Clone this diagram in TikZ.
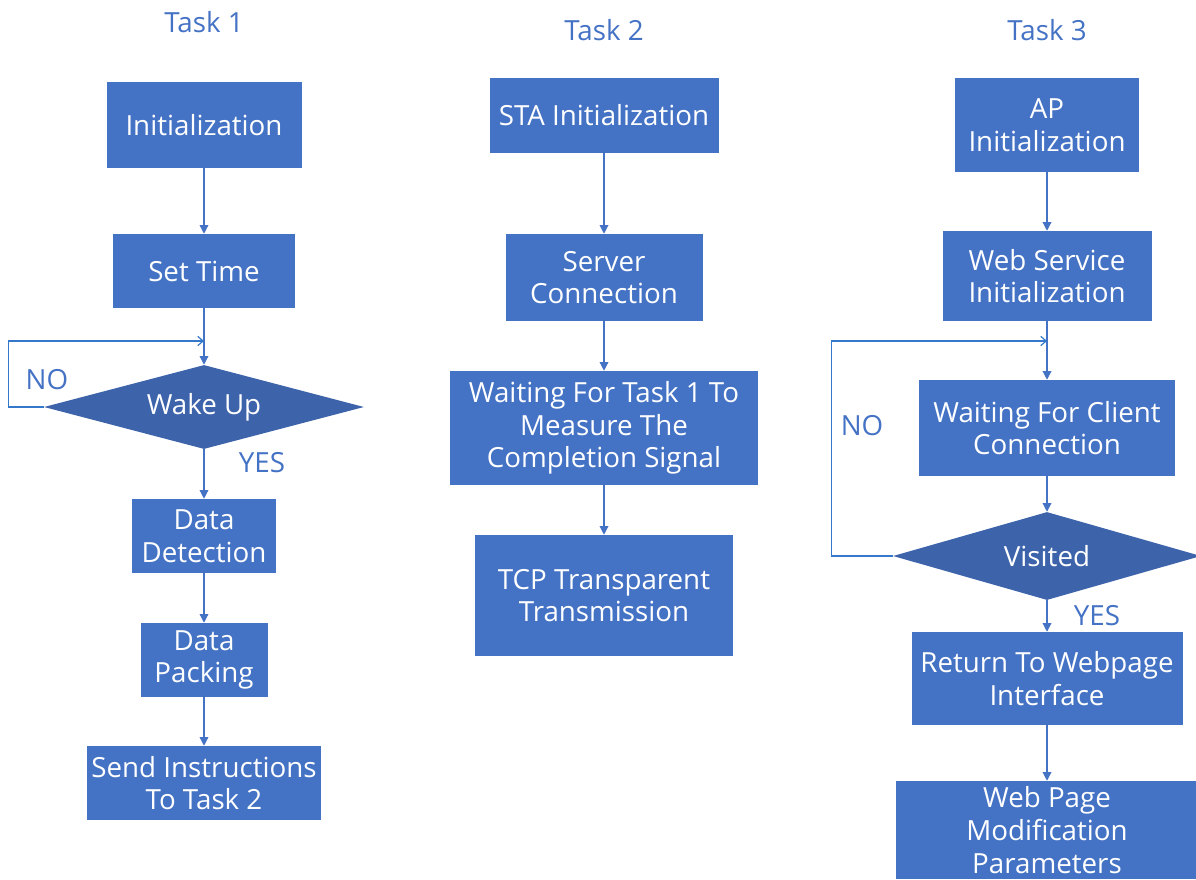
\documentclass[tikz,border=0pt]{standalone}
\usepackage{fontspec}
\setmainfont{Open Sans}
\usepackage{tikz}
\usetikzlibrary{positioning,arrows.meta,shapes.geometric}
\definecolor{boxblue}{RGB}{68,114,196}
\definecolor{decblue}{RGB}{61,99,170}
\definecolor{loopblue}{RGB}{52,120,204}

\begin{document}
\begin{tikzpicture}[
  x=0.75pt,y=-0.75pt,
  font=\fontsize{20.8}{24.5}\selectfont,
  proc/.style={fill=boxblue,text=white,align=center,inner sep=2pt},
  dec/.style={fill=decblue,text=white,diamond,aspect=3.6,inner sep=0pt,
              minimum width=240pt,minimum height=63pt},
  title/.style={text=boxblue},
  lbl/.style={text=boxblue,inner sep=0pt},
  ar/.style={-{Triangle[length=6.5pt,width=6.5pt]},boxblue,line width=0.9pt},
  lp/.style={-{Straight Barb[length=4pt,width=7pt]},loopblue,line width=0.9pt},
]
\useasboundingbox (0,0) rectangle (1196,879);

% Task 1
\node[title] (t1) at (204,22) {Task 1};
\node[proc,minimum width=146.25pt,minimum height=64.5pt] (init) at (204,125) {Initialization};
\node[proc,minimum width=136.5pt,minimum height=55.5pt] (settime) at (204,271) {Set Time};
\node[dec] (wake) at (204,407) {Wake Up};
\node[proc,minimum width=108pt,minimum height=55.5pt] (detect) at (204,536) {Data\\Detection};
\node[proc,minimum width=95.25pt,minimum height=55.5pt] (pack) at (204,660) {Data\\Packing};
\node[proc,minimum width=175.5pt,minimum height=55.5pt] (send) at (204,783) {Send Instructions\\To Task 2};
\coordinate (j1) at (204,341);
\node[lbl] (no1) at (47,380) {NO};
\node[lbl] (yes1) at (262,463) {YES};

% Task 2
\node[title] (t2) at (604,30) {Task 2};
\node[proc,minimum width=171.75pt,minimum height=56.25pt] (sta) at (604,115.5) {STA Initialization};
\node[proc,minimum width=147.75pt,minimum height=65.25pt] (server) at (604,277.5) {Server\\Connection};
\node[proc,minimum width=231pt,minimum height=85.5pt] (wait) at (604,428) {Waiting For Task 1 To\\Measure The\\Completion Signal};
\node[proc,minimum width=193.5pt,minimum height=90.75pt] (tcp) at (604,595.5) {TCP Transparent\\Transmission};

% Task 3
\node[title] (t3) at (1047,30) {Task 3};
\node[proc,minimum width=138pt,minimum height=70.5pt] (ap) at (1047,125) {AP\\Initialization};
\node[proc,minimum width=156.75pt,minimum height=67.5pt] (web) at (1047,276) {Web Service\\Initialization};
\node[proc,minimum width=192pt,minimum height=72pt] (client) at (1047,428) {Waiting For Client\\Connection};
\node[dec,minimum width=231pt,minimum height=66pt] (visit) at (1047,556) {Visited};
\node[proc,minimum width=203.25pt,minimum height=69.75pt] (ret) at (1047,678.5) {Return To Webpage\\Interface};
\node[proc,minimum width=227.25pt,minimum height=73.5pt] (modify) at (1047,830) {Web Page\\Modification\\Parameters};
\coordinate (j3) at (1047,341);
\node[lbl] (no3) at (862,426) {NO};
\node[lbl] (yes3) at (1097,616) {YES};

% connectors
\draw[ar] (init) -- (settime);
\draw[ar] (settime) -- (wake);
\draw[lp] (wake.west) -- ++(-35,0) |- (j1);
\draw[ar] (wake) -- (detect);
\draw[ar] (detect) -- (pack);
\draw[ar] (pack) -- (send);

\draw[ar] (sta) -- (server);
\draw[ar] (server) -- (wait);
\draw[ar] (wait) -- (tcp);

\draw[ar] (ap) -- (web);
\draw[ar] (web) -- (client);
\draw[lp] (visit.west) -- ++(-61,0) |- (j3);
\draw[ar] (client) -- (visit);
\draw[ar] (visit) -- (ret);
\draw[ar] (ret) -- (modify);
\end{tikzpicture}
\end{document}
